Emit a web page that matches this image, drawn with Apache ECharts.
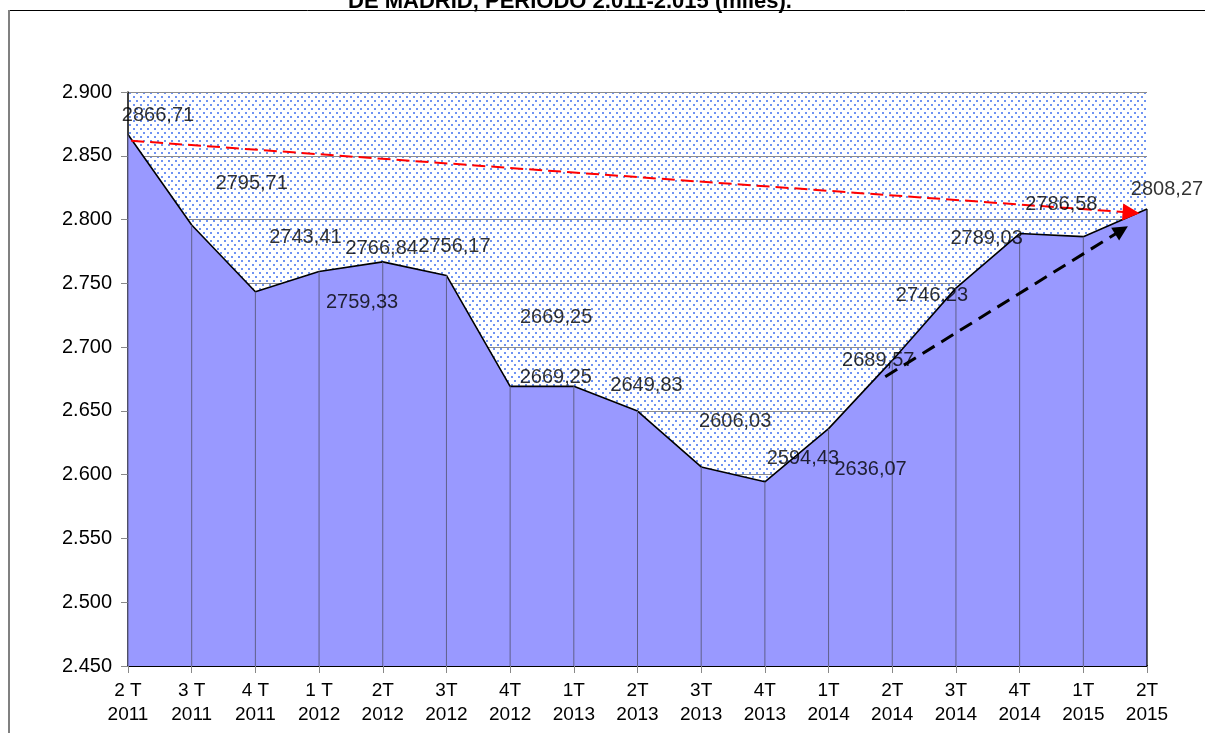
<!DOCTYPE html>
<html>
<head>
<meta charset="utf-8">
<script src="https://cdn.jsdelivr.net/npm/echarts@6/dist/echarts.min.js"></script>
<style>
html,body{margin:0;padding:0;background:#fff;}
#chart{width:1205px;height:733px;}
</style>
</head>
<body>
<div id="chart"></div>
<script>
const categories = ['2 T\n2011','3 T\n2011','4 T\n2011','1 T\n2012','2T\n2012','3T\n2012','4T\n2012','1T\n2013','2T\n2013','3T\n2013','4T\n2013','1T\n2014','2T\n2014','3T\n2014','4T\n2014','1T\n2015','2T\n2015'];
const values = [2866.71,2795.71,2743.41,2759.33,2766.84,2756.17,2669.25,2669.25,2649.83,2606.03,2594.43,2636.07,2689.57,2746.23,2789.03,2786.58,2808.27];
const labelOffsets = [[30,-19],[60,-42],[50,-54],[43,31],[-1,-13],[8,-29],[46,-69],[-18,-9],[9,-26],[34,-45],[38,-23],[42,41],[-14,0],[-24,7],[-33,5],[-22,-32],[20,-20]];
const yTicks = {min:2450, max:2900, interval:50};
const redTrend = [[0.05,2861.8],[15.75,2805.5]];
const blackTrend = [[11.89,2676.8],[15.6,2791.7]];
const titleText = 'DE MADRID, PERIODO 2.011-2.015 (miles).';

// dotted pattern for the plot background
const pc = document.createElement('canvas');
pc.width = 7; pc.height = 8;
const g = pc.getContext('2d');
g.fillStyle = '#ffffff'; g.fillRect(0,0,7,8);
g.fillStyle = '#6f93f2';
g.fillRect(0,0,2,2);
g.fillRect(3,4,2,2);

const chart = echarts.init(document.getElementById('chart'), null, {renderer:'canvas'});
const fmtVal = v => v.toFixed(2).replace('.', ',');

chart.setOption({
  animation:false,
  backgroundColor:'#ffffff',
  grid:{left:128,right:58,top:92,bottom:67,show:true,backgroundColor:{image:pc,repeat:'repeat'},borderWidth:0},
  xAxis:[{
    type:'category', data:categories, boundaryGap:false,
    axisLine:{lineStyle:{color:'#000',width:2}},
    axisTick:{show:true,length:7,lineStyle:{color:'#888'}},
    axisLabel:{color:'#000',fontFamily:'Liberation Sans, Arial',fontSize:19,lineHeight:24,margin:13,interval:0},
    splitLine:{show:false}
  },{
    type:'value', min:0, max:16, show:false
  }],
  yAxis:[{
    type:'value', min:yTicks.min, max:yTicks.max, interval:yTicks.interval,
    axisLine:{show:true,lineStyle:{color:'#000',width:1.5}},
    axisTick:{show:true,length:7,lineStyle:{color:'#888'}},
    axisLabel:{color:'#000',fontFamily:'Liberation Sans, Arial',fontSize:20,margin:16,
      formatter:v=>(v/1000).toFixed(3)},
    splitLine:{show:true,lineStyle:{color:'#8c8c8c',width:1}}
  }],
  series:[
    {
      type:'line', data:values, symbol:'none',
      lineStyle:{color:'#000',width:1.6},
      areaStyle:{color:'#9999ff',opacity:1},
      z:2
    },
    {
      type:'bar', data:values.map((v,i)=> i===values.length-1 ? {value:v,itemStyle:{color:'#000',borderColor:'#000',borderWidth:0.6}} : v),
      barWidth:1, itemStyle:{color:'#5f5f8a'}, z:3, silent:true
    },
    {
      type:'scatter', data:values.map((v,i)=>({value:v,label:{offset:labelOffsets[i]}})),
      symbolSize:1, itemStyle:{color:'rgba(0,0,0,0)'}, z:5,
      label:{show:true,position:'inside',color:'#000',fontFamily:'Liberation Sans, Arial',fontSize:20,
        formatter:p=>fmtVal(p.value)}
    },
    {
      type:'line', xAxisIndex:1, data:redTrend, symbol:'none', lineStyle:{opacity:0}, z:6,
      markLine:{silent:true,symbol:['none','triangle'],symbolSize:17,label:{show:false},
        lineStyle:{color:'#ff0000',width:2,type:[13,6]},
        data:[[{coord:redTrend[0]},{coord:redTrend[1]}]]}
    },
    {
      type:'line', xAxisIndex:1, data:blackTrend, symbol:'none', lineStyle:{opacity:0}, z:6,
      markLine:{silent:true,symbol:['none','triangle'],symbolSize:15,label:{show:false},
        lineStyle:{color:'#000000',width:3,type:[14,8]},
        data:[[{coord:blackTrend[0]},{coord:blackTrend[1]}]]}
    }
  ],
  graphic:[
    {type:'line',shape:{x1:8,y1:10.5,x2:1205,y2:10.5},style:{stroke:'#000',lineWidth:1},silent:true},
    {type:'line',shape:{x1:9,y1:10,x2:9,y2:733},style:{stroke:'#808080',lineWidth:2},silent:true},
    {type:'text',x:570,y:2,style:{text:titleText,fill:'#000',font:'bold 22px "Liberation Sans", Arial',textAlign:'center',textVerticalAlign:'middle'},silent:true}
  ]
});
</script>
</body>
</html>
